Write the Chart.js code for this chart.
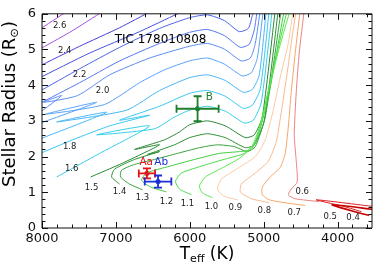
<!DOCTYPE html>
<html>
<head>
<meta charset="utf-8">
<script src="https://cdn.jsdelivr.net/npm/chart.js@4.4.0/dist/chart.umd.min.js"></script>
<style>
  html, body { margin: 0; padding: 0; background: #fff; }
</style>
</head>
<body>
<canvas id="hr" width="377" height="267"></canvas>
<script>
// evolutionary tracks, [Teff (K), R (Rsun)]
const trk40 = [[3507, 0.52], [4073, 0.65], [3776, 0.46], [3575, 0.35]];
const trk50 = [[3507, 0.60], [4290, 0.79], [3910, 0.60], [3680, 0.46]];
const trk60 = [[4250, 0.74], [4574, 0.82], [4668, 0.93], [4628, 1.09], [4547, 1.29], [4560, 1.87], [4587, 2.61], [4560, 3.80], [4520, 4.90], [4452, 6.11]];
const trk70 = [[4439, 0.63], [4722, 0.71], [4925, 0.79], [5019, 0.93], [5019, 1.15], [4911, 1.43], [4776, 1.70], [4709, 2.09], [4668, 2.83], [4628, 3.80], [4574, 4.90], [4506, 6.11]];
const trk80 = [[4925, 0.71], [5168, 0.82], [5316, 1.01], [5303, 1.23], [5114, 1.54], [4938, 1.87], [4830, 2.42], [4763, 3.24], [4682, 4.35], [4628, 5.17], [4560, 6.11]];
const trk90 = [[5357, 0.79], [5545, 0.90], [5626, 1.09], [5573, 1.37], [5330, 1.70], [5114, 2.00], [4979, 2.47], [4871, 3.30], [4763, 4.35], [4668, 5.17], [4601, 6.11]];
const trk100 = [[5694, 0.85], [5830, 0.98], [5870, 1.18], [5789, 1.43], [5545, 1.70], [5330, 1.95], [5168, 2.25], [5033, 2.97], [4925, 3.93], [4790, 5.04], [4641, 6.11]];
const trk110 = [[5978, 0.93], [6140, 1.09], [6194, 1.31], [6113, 1.54], [5802, 1.76], [5491, 1.95], [5262, 2.09], [5114, 2.42], [5006, 3.24], [4884, 4.35], [4682, 6.11]];
const trk120 = [[6316, 1.01], [6532, 1.15], [6653, 1.34], [6586, 1.54], [6275, 1.73], [5937, 1.92], [5600, 2.09], [5330, 2.14], [5168, 2.20], [5060, 2.69], [4925, 3.80], [4722, 6.11]];
const trk130 = [[6640, 1.07], [6815, 1.23], [6937, 1.43], [6923, 1.62], [6748, 1.78], [6478, 1.92], [6167, 2.09], [5870, 2.25], [5627, 2.33], [5397, 2.28], [5222, 2.14], [5114, 2.28], [4979, 3.11], [4763, 6.11]];
const trk140 = [[6950, 1.23], [7058, 1.43], [7018, 1.65], [6748, 1.92], [6410, 2.14], [6572, 2.06], [6207, 2.33], [6005, 2.53], [5762, 2.64], [5518, 2.53], [5249, 2.25], [5127, 2.33], [4992, 3.02], [4803, 6.11]];
const trk150 = [[7342, 1.43], [6950, 1.78], [6410, 2.33], [6748, 2.20], [6343, 2.47], [6140, 2.69], [6005, 2.89], [5762, 3.00], [5518, 2.86], [5249, 2.53], [5127, 2.61], [5019, 3.11], [4844, 6.11]];
const trk160 = [[7801, 1.43], [7220, 2.09], [6545, 2.86], [7261, 2.61], [6478, 2.78], [6207, 3.11], [6005, 3.30], [5762, 3.41], [5518, 3.27], [5262, 2.94], [5141, 3.02], [5033, 3.52], [4884, 6.11]];
const trk170 = [[8058, 2.06], [7585, 2.47], [7085, 2.86], [6545, 3.16], [6950, 3.02], [6410, 3.41], [6005, 3.77], [5762, 3.85], [5518, 3.69], [5276, 3.35], [5154, 3.44], [5046, 3.90], [4925, 6.11]];
const trk180 = [[8058, 2.47], [7126, 3.24], [7801, 2.97], [6856, 3.30], [6410, 3.85], [6005, 4.21], [5762, 4.29], [5518, 4.13], [5276, 3.80], [5154, 3.88], [5060, 4.29], [4965, 6.11]];
const trk190 = [[8058, 2.91], [7261, 3.52], [7950, 3.19], [7153, 3.46], [6680, 4.07], [6343, 4.43], [6005, 4.68], [5762, 4.76], [5532, 4.59], [5289, 4.26], [5168, 4.35], [5087, 4.76], [5006, 6.11]];
const trk200 = [[8058, 3.19], [7734, 3.71], [7977, 3.52], [7518, 3.71], [7085, 4.29], [6545, 4.76], [6005, 5.09], [5762, 5.17], [5532, 5.01], [5303, 4.68], [5181, 4.76], [5114, 5.17], [5046, 6.11]];
const trk210 = [[8058, 3.46], [7491, 4.07], [6950, 4.68], [6410, 5.17], [6005, 5.48], [5762, 5.56], [5532, 5.39], [5316, 5.06], [5195, 5.15], [5127, 5.56], [5087, 6.11]];
const trk220 = [[8058, 3.80], [7491, 4.46], [6950, 5.06], [6410, 5.59], [6005, 5.89], [5762, 5.97], [5532, 5.81], [5330, 5.50], [5208, 5.59], [5154, 5.95], [5127, 6.11]];
const trk230 = [[8058, 4.18], [7356, 4.90], [6680, 5.50], [6167, 6.00], [6086, 6.08]];
const trk240 = [[8058, 4.51], [7491, 5.09], [6950, 5.61], [6518, 6.08]];
const trk250 = [[8058, 4.98], [7626, 5.48], [7166, 6.08]];
const trk260 = [[8058, 5.53], [7653, 6.08]];

const tracks = [trk40, trk50, trk60, trk70, trk80, trk90, trk100, trk110, trk120, trk130, trk140,
  trk150, trk160, trk170, trk180, trk190, trk200, trk210, trk220, trk230, trk240, trk250, trk260];
const trackColors = ["#c80000", "#dc2020", "#e88484", "#f7a566", "#f9b98c", "#fcc9a2", "#5ee84e",
  "#48dc48", "#40cc40", "#37a23a", "#2d9032", "#2a8834", "#34cfe8", "#3ac6f2", "#48b6f8", "#5aa2f8",
  "#5a8cf4", "#5478f0", "#4c64ea", "#4a50e2", "#4640d6", "#a050e0", "#b44cdc"];

// track mass labels
const labelText = ["2.6", "2.4", "2.2", "2.0", "1.8", "1.6", "1.5", "1.4", "1.3", "1.2", "1.1", "1.0", "0.9", "0.8", "0.7", "0.6", "0.5", "0.4"];
const labelT = [7761, 7693, 7491, 7180, 7626, 7599, 7329, 6950, 6640, 6316, 6032, 5708, 5384, 4992, 4587, 4479, 4101, 3791];
const labelR = [5.67, 4.95, 4.29, 3.85, 2.28, 1.67, 1.12, 1.01, 0.85, 0.74, 0.68, 0.60, 0.57, 0.49, 0.43, 1.01, 0.32, 0.29];

// the three stars
const starName = ["Aa", "Ab", "B"];
const starT = [6580, 6430, 5895];
const starTErr = [110, 180, 285];
const starR = [1.53, 1.30, 3.34];
const starRErr = [0.14, 0.17, 0.35];
const starColors = ["#e3141c", "#1c2fd8", "#1f7d2b"];
const starLabelT = [6590, 6387, 5735];
const starLabelR = [1.85, 1.85, 3.66];

const xTickMajor = [4000, 5000, 6000, 7000, 8000];
const yTickMajor = [0, 1, 2, 3, 4, 5, 6];

const FONT = "'DejaVu Sans', Verdana, sans-serif";

const datasets = tracks.map((trk, i) => ({
  data: trk.map(([t, r]) => ({ x: t, y: r })),
  showLine: true,
  borderColor: trackColors[i],
  borderWidth: i === 0 ? 1.6 : 1,
  pointRadius: 0,
  tension: 0.2,
}));

datasets.push({
  data: starT.map((t, i) => ({ x: t, y: starR[i] })),
  showLine: false,
  pointRadius: 2.2,
  pointBackgroundColor: starColors,
  pointBorderColor: starColors,
});

const decor = {
  id: "decor",
  afterDatasetsDraw(chart) {
    const { ctx, chartArea: a, scales: { x, y } } = chart;
    ctx.save();

    // error bars
    ctx.lineWidth = 1.8;
    starT.forEach((t, i) => {
      ctx.strokeStyle = starColors[i];
      const cx = x.getPixelForValue(t);
      const cy = y.getPixelForValue(starR[i]);
      const x0 = x.getPixelForValue(t + starTErr[i]);
      const x1 = x.getPixelForValue(t - starTErr[i]);
      const y0 = y.getPixelForValue(starR[i] + starRErr[i]);
      const y1 = y.getPixelForValue(starR[i] - starRErr[i]);
      ctx.beginPath();
      ctx.moveTo(x0, cy); ctx.lineTo(x1, cy);
      ctx.moveTo(x0, cy - 4); ctx.lineTo(x0, cy + 4);
      ctx.moveTo(x1, cy - 4); ctx.lineTo(x1, cy + 4);
      ctx.moveTo(cx, y0); ctx.lineTo(cx, y1);
      ctx.moveTo(cx - 4, y0); ctx.lineTo(cx + 4, y0);
      ctx.moveTo(cx - 4, y1); ctx.lineTo(cx + 4, y1);
      ctx.stroke();
    });

    ctx.textAlign = "center";
    ctx.textBaseline = "middle";
    ctx.font = "10.5px " + FONT;
    starName.forEach((n, i) => {
      ctx.fillStyle = starColors[i];
      ctx.fillText(n, x.getPixelForValue(starLabelT[i]), y.getPixelForValue(starLabelR[i]));
    });

    ctx.fillStyle = "#222";
    ctx.font = "8.5px " + FONT;
    labelText.forEach((m, i) => {
      ctx.fillText(m, x.getPixelForValue(labelT[i]), y.getPixelForValue(labelR[i]));
    });

    ctx.fillStyle = "#000";
    ctx.font = "12px " + FONT;
    ctx.fillText("TIC 178010808", x.getPixelForValue(6396), y.getPixelForValue(5.26));

    // frame with inward ticks on all four sides
    ctx.strokeStyle = "#111";
    ctx.lineWidth = 1;
    ctx.beginPath();
    ctx.rect(a.left, a.top, a.right - a.left, a.bottom - a.top);
    for (let v = 3600; v <= 8000; v += 200) {
      const px = Math.round(x.getPixelForValue(v)) + 0.5;
      const len = v % 1000 === 0 ? 6 : 3.5;
      ctx.moveTo(px, a.bottom); ctx.lineTo(px, a.bottom - len);
      ctx.moveTo(px, a.top); ctx.lineTo(px, a.top + len);
    }
    for (let i = 0; i <= 30; i++) {
      const py = Math.round(y.getPixelForValue(i / 5)) + 0.5;
      const len = i % 5 === 0 ? 6 : 3.5;
      ctx.moveTo(a.left, py); ctx.lineTo(a.left + len, py);
      ctx.moveTo(a.right, py); ctx.lineTo(a.right - len, py);
    }
    ctx.stroke();
    ctx.restore();
  },
  afterDraw(chart) {
    const { ctx, chartArea: a } = chart;
    ctx.save();
    ctx.fillStyle = "#000";
    ctx.textBaseline = "alphabetic";
    ctx.textAlign = "left";

    // x title: T_eff (K)
    const big = "17px " + FONT, small = "11px " + FONT;
    ctx.font = big; const wT = ctx.measureText("T").width;
    ctx.font = small; const wE = ctx.measureText("eff").width;
    ctx.font = big; const wK = ctx.measureText(" (K)").width;
    let sx = (a.left + a.right) / 2 - (wT + wE + wK) / 2;
    const sy = 259;
    ctx.font = big; ctx.fillText("T", sx, sy);
    ctx.font = small; ctx.fillText("eff", sx + wT, sy + 3);
    ctx.font = big; ctx.fillText(" (K)", sx + wT + wE, sy);

    // y title: Stellar Radius (R_sun)
    const bigY = "18px " + FONT, smallY = "11.5px " + FONT;
    ctx.translate(15, 104);
    ctx.rotate(-Math.PI / 2);
    ctx.font = bigY; const w1 = ctx.measureText("Stellar Radius (R").width;
    ctx.font = smallY; const w2 = ctx.measureText("\u2299").width;
    ctx.font = bigY; const w3 = ctx.measureText(")").width;
    let tx = -(w1 + w2 + w3) / 2;
    ctx.font = bigY; ctx.fillText("Stellar Radius (R", tx, 0);
    ctx.font = smallY; ctx.fillText("\u2299", tx + w1, 3);
    ctx.font = bigY; ctx.fillText(")", tx + w1 + w2, 0);
    ctx.restore();
  },
};

new Chart(document.getElementById("hr"), {
  type: "scatter",
  data: { datasets },
  options: {
    responsive: false,
    animation: false,
    devicePixelRatio: 1,
    layout: { padding: { top: 9, right: 4, left: 0, bottom: 0 } },
    plugins: { legend: { display: false }, tooltip: { enabled: false } },
    scales: {
      x: {
        type: "linear",
        reverse: true,
        min: 3535,
        max: 8000,
        grid: { display: false, drawTicks: false },
        border: { display: false },
        ticks: {
          font: { family: FONT, size: 13 },
          color: "#111",
          padding: 3,
          maxRotation: 0,
          callback: (v) => String(v),
        },
        afterBuildTicks: (s) => { s.ticks = xTickMajor.map((v) => ({ value: v })); },
        afterFit: (s) => { s.height = 39; },
      },
      y: {
        type: "linear",
        min: 0,
        max: 6,
        grid: { display: false, drawTicks: false },
        border: { display: false },
        ticks: { font: { family: FONT, size: 13 }, color: "#111", padding: 6, callback: (v) => String(v) },
        afterBuildTicks: (s) => { s.ticks = yTickMajor.map((v) => ({ value: v })); },
        afterFit: (s) => { s.width = 42; },
      },
    },
  },
  plugins: [decor],
});
</script>
</body>
</html>
